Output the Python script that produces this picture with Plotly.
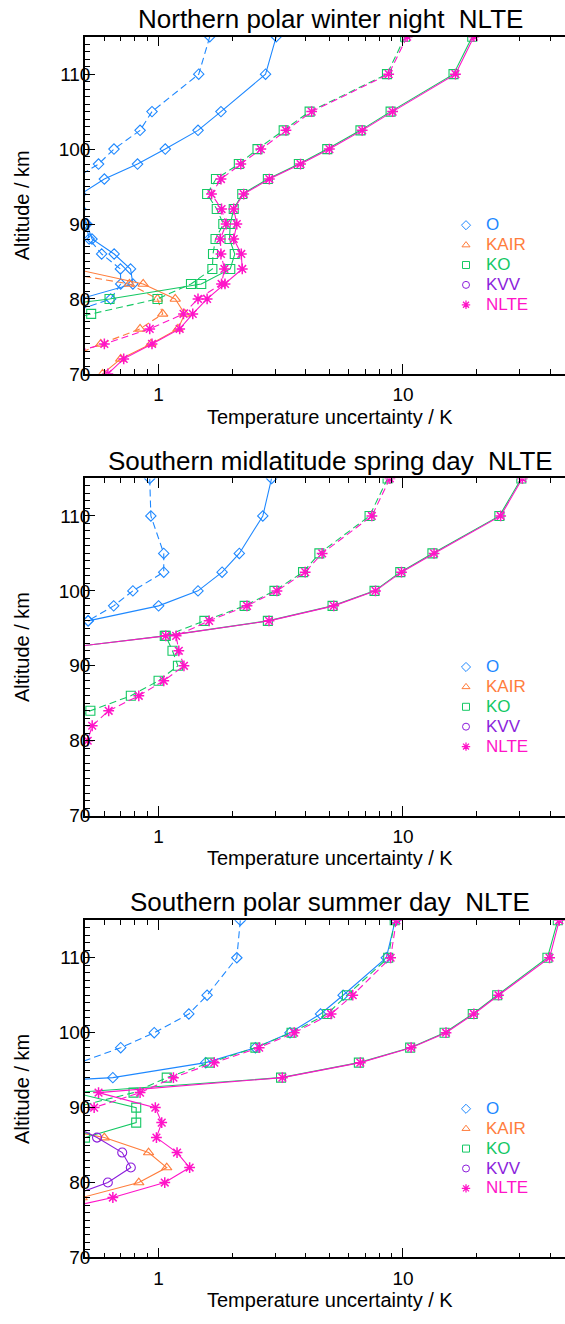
import math
import plotly.graph_objects as go

N = None
# Altitude levels (km)
ALT = [115, 110, 105, 102.5, 100, 98, 96, 94, 92, 90, 88, 86, 84, 82, 80, 78, 76, 74, 72, 70]

TITLES = ["Northern polar winter night  NLTE",
          "Southern midlatitude spring day  NLTE",
          "Southern polar summer day  NLTE"]
X_TITLE = "Temperature uncertainty / K"
Y_TITLE = "Altitude / km"
X_TICKS = [1, 10]
X_TICK_LABELS = ["1", "10"]
X_MINOR = [0.6, 0.7, 0.8, 0.9, 2, 3, 4, 5, 6, 7, 8, 9, 20, 30, 40]
Y_TICKS = [70, 80, 90, 100, 110]
Y_TICK_LABELS = ["70", "80", "90", "100", "110"]
SPECIES = ["O", "KAIR", "KO", "KVV", "NLTE"]

# ---- Panel 1: Northern polar winter night ----
P1_O_SOLID = [3.03, 2.74, 1.80, 1.45, 1.065, 0.82, 0.60, 0.48, 0.48, 0.509, 0.534, 0.658, 0.768, 0.785, 0.476, N, N, N, N, N]
P1_O_DASH = [1.62, 1.46, 0.94, 0.84, 0.657, 0.568, 0.45, 0.42, 0.47, 0.505, 0.52, 0.585, 0.698, 0.70, 0.637, 0.42, N, N, N, N]
P1_KAIR_SOLID = [N] * 12 + [0.454, 0.865, 1.17, 1.28, 1.20, 0.93, 0.70, 0.59]
P1_KAIR_DASH = [N] * 12 + [0.33, 0.76, 0.99, 1.04, 0.84, 0.58, 0.42, N]
P1_KO_SOLID = [19.2, 16.1, 8.9, 6.7, 4.9, 3.75, 2.8, 2.2, 2.03, 1.965, 1.95, 2.05, 1.965, 1.495, 0.63, 0.2, N, N, N, N]
P1_KO_DASH = [10.2, 8.6, 4.15, 3.25, 2.54, 2.13, 1.717, 1.58, 1.73, 1.84, 1.71, 1.67, 1.66, 1.357, 0.99, 0.53, 0.3, N, N, N]
P1_NLTE_SOLID = [19.5, 16.4, 9.07, 6.81, 5.0, 3.81, 2.84, 2.23, 2.03, 2.09, 2.03, 2.18, 2.20, 1.87, 1.58, 1.38, 1.22, 0.94, 0.72, 0.62]
P1_NLTE_DASH = [10.4, 8.74, 4.23, 3.32, 2.62, 2.17, 1.80, 1.646, 1.81, 1.89, 1.79, 1.80, 1.86, 1.81, 1.45, 1.265, 0.92, 0.60, 0.36, N]

# ---- Panel 2: Southern midlatitude spring day ----
P2_O_SOLID = [2.9, 2.67, 2.14, 1.82, 1.45, 1.0, 0.515] + [N] * 13
P2_O_DASH = [0.92, 0.93, 1.05, 1.05, 0.785, 0.655, 0.515] + [N] * 13
P2_KO_SOLID = [30.5, 24.8, 13.2, 9.75, 7.65, 5.15, 2.8, 1.06, 0.33] + [N] * 11
P2_KO_DASH = [8.65, 7.3, 4.55, 3.9, 2.98, 2.25, 1.54, 1.07, 1.14, 1.2, 1.0, 0.77, 0.526, 0.4] + [N] * 6
P2_NLTE_SOLID = [30.8, 25.1, 13.4, 9.86, 7.72, 5.21, 2.83, 1.07, 0.33] + [N] * 11
P2_NLTE_DASH = [8.84, 7.46, 4.67, 3.98, 3.05, 2.30, 1.61, 1.18, 1.21, 1.27, 1.05, 0.83, 0.625, 0.535, 0.513] + [N] * 5

# ---- Panel 3: Southern polar summer day ----
P3_O_SOLID = [9.3, 8.55, 5.69, 4.6, 3.45, 2.49, 1.56, 0.65, 0.05] + [N] * 11
P3_O_DASH = [2.16, 2.09, 1.58, 1.33, 0.96, 0.70, 0.475] + [N] * 13
P3_KAIR_SOLID = [N] * 10 + [0.29, 0.6, 0.91, 1.08, 0.83, 0.487, N, N, N, N]
P3_KO_SOLID = [43.0, 39.0, 24.3, 19.3, 14.8, 10.7, 6.6, 3.17, 0.45, 0.81, 0.81, 0.5] + [N] * 8
P3_KO_DASH = [9.25, 8.7, 5.9, 4.9, 3.5, 2.49, 1.62, 1.08, 0.79, 0.45] + [N] * 10
P3_KVV_SOLID = [N] * 10 + [0.42, 0.56, 0.71, 0.77, 0.62, 0.42, N, N, N, N]
P3_NLTE_SOLID = [43.6, 39.8, 24.6, 19.5, 15.0, 10.8, 6.69, 3.21, 0.568, 0.97, 1.03, 0.98, 1.19, 1.34, 1.06, 0.65, 0.34, N, N, N]
P3_NLTE_DASH = [9.4, 8.9, 6.23, 5.08, 3.59, 2.58, 1.69, 1.15, 0.84, 0.545, 0.4] + [N] * 9

PANELS = [
    [("O", "solid", P1_O_SOLID), ("O", "dash", P1_O_DASH),
     ("KAIR", "solid", P1_KAIR_SOLID), ("KAIR", "dash", P1_KAIR_DASH),
     ("KO", "solid", P1_KO_SOLID), ("KO", "dash", P1_KO_DASH),
     ("NLTE", "solid", P1_NLTE_SOLID), ("NLTE", "dash", P1_NLTE_DASH)],
    [("O", "solid", P2_O_SOLID), ("O", "dash", P2_O_DASH),
     ("KO", "solid", P2_KO_SOLID), ("KO", "dash", P2_KO_DASH),
     ("NLTE", "solid", P2_NLTE_SOLID), ("NLTE", "dash", P2_NLTE_DASH)],
    [("O", "solid", P3_O_SOLID), ("O", "dash", P3_O_DASH),
     ("KAIR", "solid", P3_KAIR_SOLID),
     ("KO", "solid", P3_KO_SOLID), ("KO", "dash", P3_KO_DASH),
     ("KVV", "solid", P3_KVV_SOLID),
     ("NLTE", "solid", P3_NLTE_SOLID), ("NLTE", "dash", P3_NLTE_DASH)],
]

COLORS = {"O": "rgb(30,136,255)", "KAIR": "rgb(255,125,60)", "KO": "rgb(20,200,100)",
          "KVV": "rgb(140,30,220)", "NLTE": "rgb(255,20,200)"}
SYMBOLS = {"O": "diamond-open", "KAIR": "triangle-up-open", "KO": "square-open",
           "KVV": "circle-open", "NLTE": "asterisk-open"}
SIZES = {"O": 8, "KAIR": 9, "KO": 9, "KVV": 9, "NLTE": 9}
LEG_SIZES = {"O": 7, "KAIR": 7, "KO": 7, "KVV": 7, "NLTE": 7}

FONT = "Liberation Sans, Arial, Helvetica, sans-serif"
W, H = 565, 1324
PLOT_L, PLOT_R = 85, 565
PANEL_TOPS = [37, 482.5, 928]
PANEL_H = 340
X_RIGHT_VAL = 0.5 * 10 ** ((PLOT_R - PLOT_L) / 244.4)

fig = go.Figure()
order = {s: i for i, s in enumerate(SPECIES)}
for p, series in enumerate(PANELS):
    sfx = "" if p == 0 else str(p + 1)
    for sp, style, vals in sorted(series, key=lambda t: order[t[0]]):
        fig.add_trace(go.Scatter(
            x=vals, y=ALT, mode="lines+markers", xaxis="x" + sfx, yaxis="y" + sfx,
            line=dict(color=COLORS[sp], width=1.1, dash="solid" if style == "solid" else "7px,4px"),
            marker=dict(symbol=SYMBOLS[sp], size=SIZES[sp], color=COLORS[sp],
                        line=dict(color=COLORS[sp], width=1.5 if sp == "NLTE" else 1.1)),
            showlegend=False, hoverinfo="skip"))
    leg = "legend" + sfx
    for sp in SPECIES:
        fig.add_trace(go.Scatter(
            x=[None], y=[None], mode="markers", xaxis="x" + sfx, yaxis="y" + sfx,
            marker=dict(symbol=SYMBOLS[sp], size=LEG_SIZES[sp], color=COLORS[sp],
                        line=dict(color=COLORS[sp], width=1.3 if sp == "NLTE" else 1)),
            name='<span style="color:%s;font-size:17px">%s</span>' % (COLORS[sp], sp),
            legend=leg, showlegend=True))

layout = dict(width=W, height=H, margin=dict(l=0, r=0, t=0, b=0),
              paper_bgcolor="white", plot_bgcolor="white",
              font=dict(family=FONT, color="black"), annotations=[])

for p in range(3):
    sfx = "" if p == 0 else str(p + 1)
    top = PANEL_TOPS[p]
    bot = top + PANEL_H
    dom_y = [1 - bot / H, 1 - top / H]
    layout["xaxis" + sfx] = dict(
        type="log", domain=[PLOT_L / W, PLOT_R / W],
        range=[math.log10(0.5), math.log10(X_RIGHT_VAL)], anchor="y" + sfx,
        showline=True, linecolor="black", linewidth=1.5, mirror="ticks",
        ticks="inside", ticklen=10, tickwidth=1, tickcolor="black",
        tickvals=X_TICKS, ticktext=X_TICK_LABELS, showgrid=False, zeroline=False,
        tickfont=dict(size=19, family=FONT, color="black"), ticklabelstandoff=3,
        minor=dict(ticks="inside", ticklen=5, tickwidth=1, tickcolor="black",
                   tickvals=X_MINOR, showgrid=False))
    layout["yaxis" + sfx] = dict(
        domain=dom_y, range=[70, 115], anchor="x" + sfx,
        showline=True, linecolor="black", linewidth=1.5, mirror=False,
        ticks="inside", ticklen=10, tickwidth=1, tickcolor="black",
        tickvals=Y_TICKS, ticktext=Y_TICK_LABELS, showgrid=False, zeroline=False,
        tickfont=dict(size=19, family=FONT, color="black"), ticklabelstandoff=-11,
        minor=dict(ticks="inside", ticklen=5, tickwidth=1, tickcolor="black",
                   dtick=1, showgrid=False))
    layout["legend" + sfx] = dict(
        x=446 / W, xanchor="left", y=1 - (top + 175) / H, yanchor="top",
        bgcolor="rgba(0,0,0,0)", borderwidth=0, tracegroupgap=0,
        font=dict(size=13, family=FONT), itemwidth=30, itemsizing="trace")
    layout["annotations"] += [
        dict(text=TITLES[p], x=330 / W, y=1 - (top - 18) / H, xref="paper", yref="paper",
             showarrow=False, xanchor="center", yanchor="middle",
             font=dict(size=26, family=FONT, color="black")),
        dict(text=X_TITLE, x=330 / W, y=1 - (bot + 43) / H, xref="paper", yref="paper",
             showarrow=False, xanchor="center", yanchor="middle",
             font=dict(size=20, family=FONT, color="black")),
        dict(text=Y_TITLE, x=22 / W, y=1 - (top + PANEL_H / 2) / H, xref="paper", yref="paper",
             showarrow=False, xanchor="center", yanchor="middle", textangle=-90,
             font=dict(size=20, family=FONT, color="black")),
    ]

fig.update_layout(**layout)
fig.write_html("out.html", config={"displayModeBar": False},
               post_script="document.body.style.margin='0';document.body.style.overflow='hidden';")
